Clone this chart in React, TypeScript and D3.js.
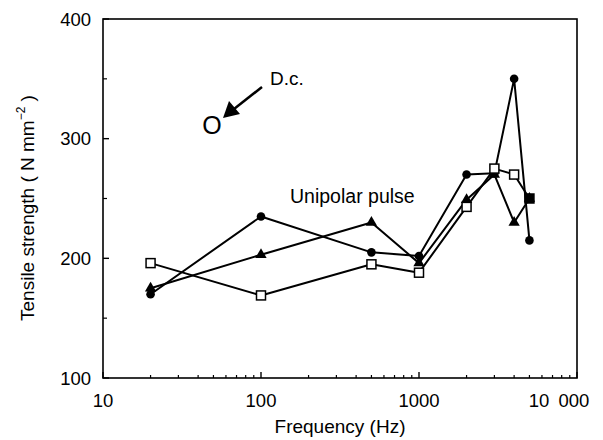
import React from "react";
import * as d3 from "d3";

const frequencies = [20, 100, 500, 1000, 2000, 3000, 4000, 5000];
const circleSeries = [170, 235, 205, 202, 270, 271, 350, 215];
const triangleSeries = [175, 203, 230, 196, 249, 270, 230, 250];
const squareSeries = [196, 169, 195, 188, 243, 275, 270, 250];
const xTicks = [10, 100, 1000, 10000];
const xTickLabels = ["10", "100", "1000", "10\u2002000"];
const yTicks = [100, 200, 300, 400];
const yMinorTicks = [150, 250, 350];

const W = 603;
const H = 440;
const left = 103;
const right = 577;
const top = 19;
const bottom = 378;
const FONT = "Liberation Sans, Arial, Helvetica, sans-serif";

export default function App() {
  const x = d3.scaleLog().domain([10, 10000]).range([left, right]);
  const y = d3.scaleLinear().domain([100, 400]).range([bottom, top]);

  const minorX: number[] = [];
  for (let d = 10; d < 10000; d *= 10) {
    for (let k = 2; k <= 9; k++) minorX.push(d * k);
  }

  const line = d3
    .line<number>()
    .x((_, i) => x(frequencies[i]))
    .y((v) => y(v));

  const tri = d3.symbol().type(d3.symbolTriangle).size(55)();

  return (
    <svg width={W} height={H} style={{ display: "block", position: "absolute", left: 0, top: 0 }}>
      <rect x={0} y={0} width={W} height={H} fill="#fff" />
      <rect x={left} y={top} width={right - left} height={bottom - top} fill="none" stroke="#000" strokeWidth={1.6} />
      {minorX.map((t) => (
        <line key={"mx" + t} x1={x(t)} x2={x(t)} y1={bottom} y2={bottom - 3} stroke="#000" strokeWidth={1.2} />
      ))}
      {xTicks.map((t, i) => (
        <g key={"x" + t}>
          <line x1={x(t)} x2={x(t)} y1={bottom} y2={bottom - 6} stroke="#000" strokeWidth={1.4} />
          <text
            x={i === xTicks.length - 1 ? x(t) - 18 : x(t)}
            y={407}
            textAnchor="middle"
            fontFamily={FONT}
            fontSize={18.5}
          >
            {xTickLabels[i]}
          </text>
        </g>
      ))}
      {yMinorTicks.map((t) => (
        <line key={"my" + t} x1={left} x2={left + 4} y1={y(t)} y2={y(t)} stroke="#000" strokeWidth={1.2} />
      ))}
      {yTicks.map((t) => (
        <g key={"y" + t}>
          <line x1={left} x2={left + 6} y1={y(t)} y2={y(t)} stroke="#000" strokeWidth={1.4} />
          <text x={91} y={y(t) + 6.5} textAnchor="end" fontFamily={FONT} fontSize={18.5}>
            {t}
          </text>
        </g>
      ))}
      <text x={340} y={433} textAnchor="middle" fontFamily={FONT} fontSize={19}>
        Frequency (Hz)
      </text>
      <text transform="translate(34,208) rotate(-90)" textAnchor="middle" fontFamily={FONT} fontSize={19}>
        Tensile strength ( N mm
        <tspan dy={-9} fontSize={12}>−2</tspan>
        <tspan dy={9}> )</tspan>
      </text>
      {[circleSeries, triangleSeries, squareSeries].map((s, i) => (
        <path key={"l" + i} d={line(s) || ""} fill="none" stroke="#000" strokeWidth={2} strokeLinejoin="round" />
      ))}
      {circleSeries.map((v, i) => (
        <circle key={"c" + i} cx={x(frequencies[i])} cy={y(v)} r={4.3} fill="#000" />
      ))}
      {triangleSeries.map((v, i) => (
        <path key={"t" + i} d={tri || ""} transform={`translate(${x(frequencies[i])},${y(v)})`} fill="#000" />
      ))}
      {squareSeries.map((v, i) => (
        <rect
          key={"s" + i}
          x={x(frequencies[i]) - 4.5}
          y={y(v) - 4.5}
          width={9}
          height={9}
          fill={i === squareSeries.length - 1 ? "#000" : "#fff"}
          stroke="#000"
          strokeWidth={1.5}
        />
      ))}
      <text x={212} y={134} textAnchor="middle" fontFamily={FONT} fontSize={25}>
        O
      </text>
      <line x1={262} x2={234} y1={87} y2={109} stroke="#000" strokeWidth={2.5} />
      <path d="M223,118 L229,101 L240,114 Z" fill="#000" />
      <text x={270} y={85} fontFamily={FONT} fontSize={19}>
        D.c.
      </text>
      <text x={290} y={203} fontFamily={FONT} fontSize={19.5}>
        Unipolar pulse
      </text>
    </svg>
  );
}
